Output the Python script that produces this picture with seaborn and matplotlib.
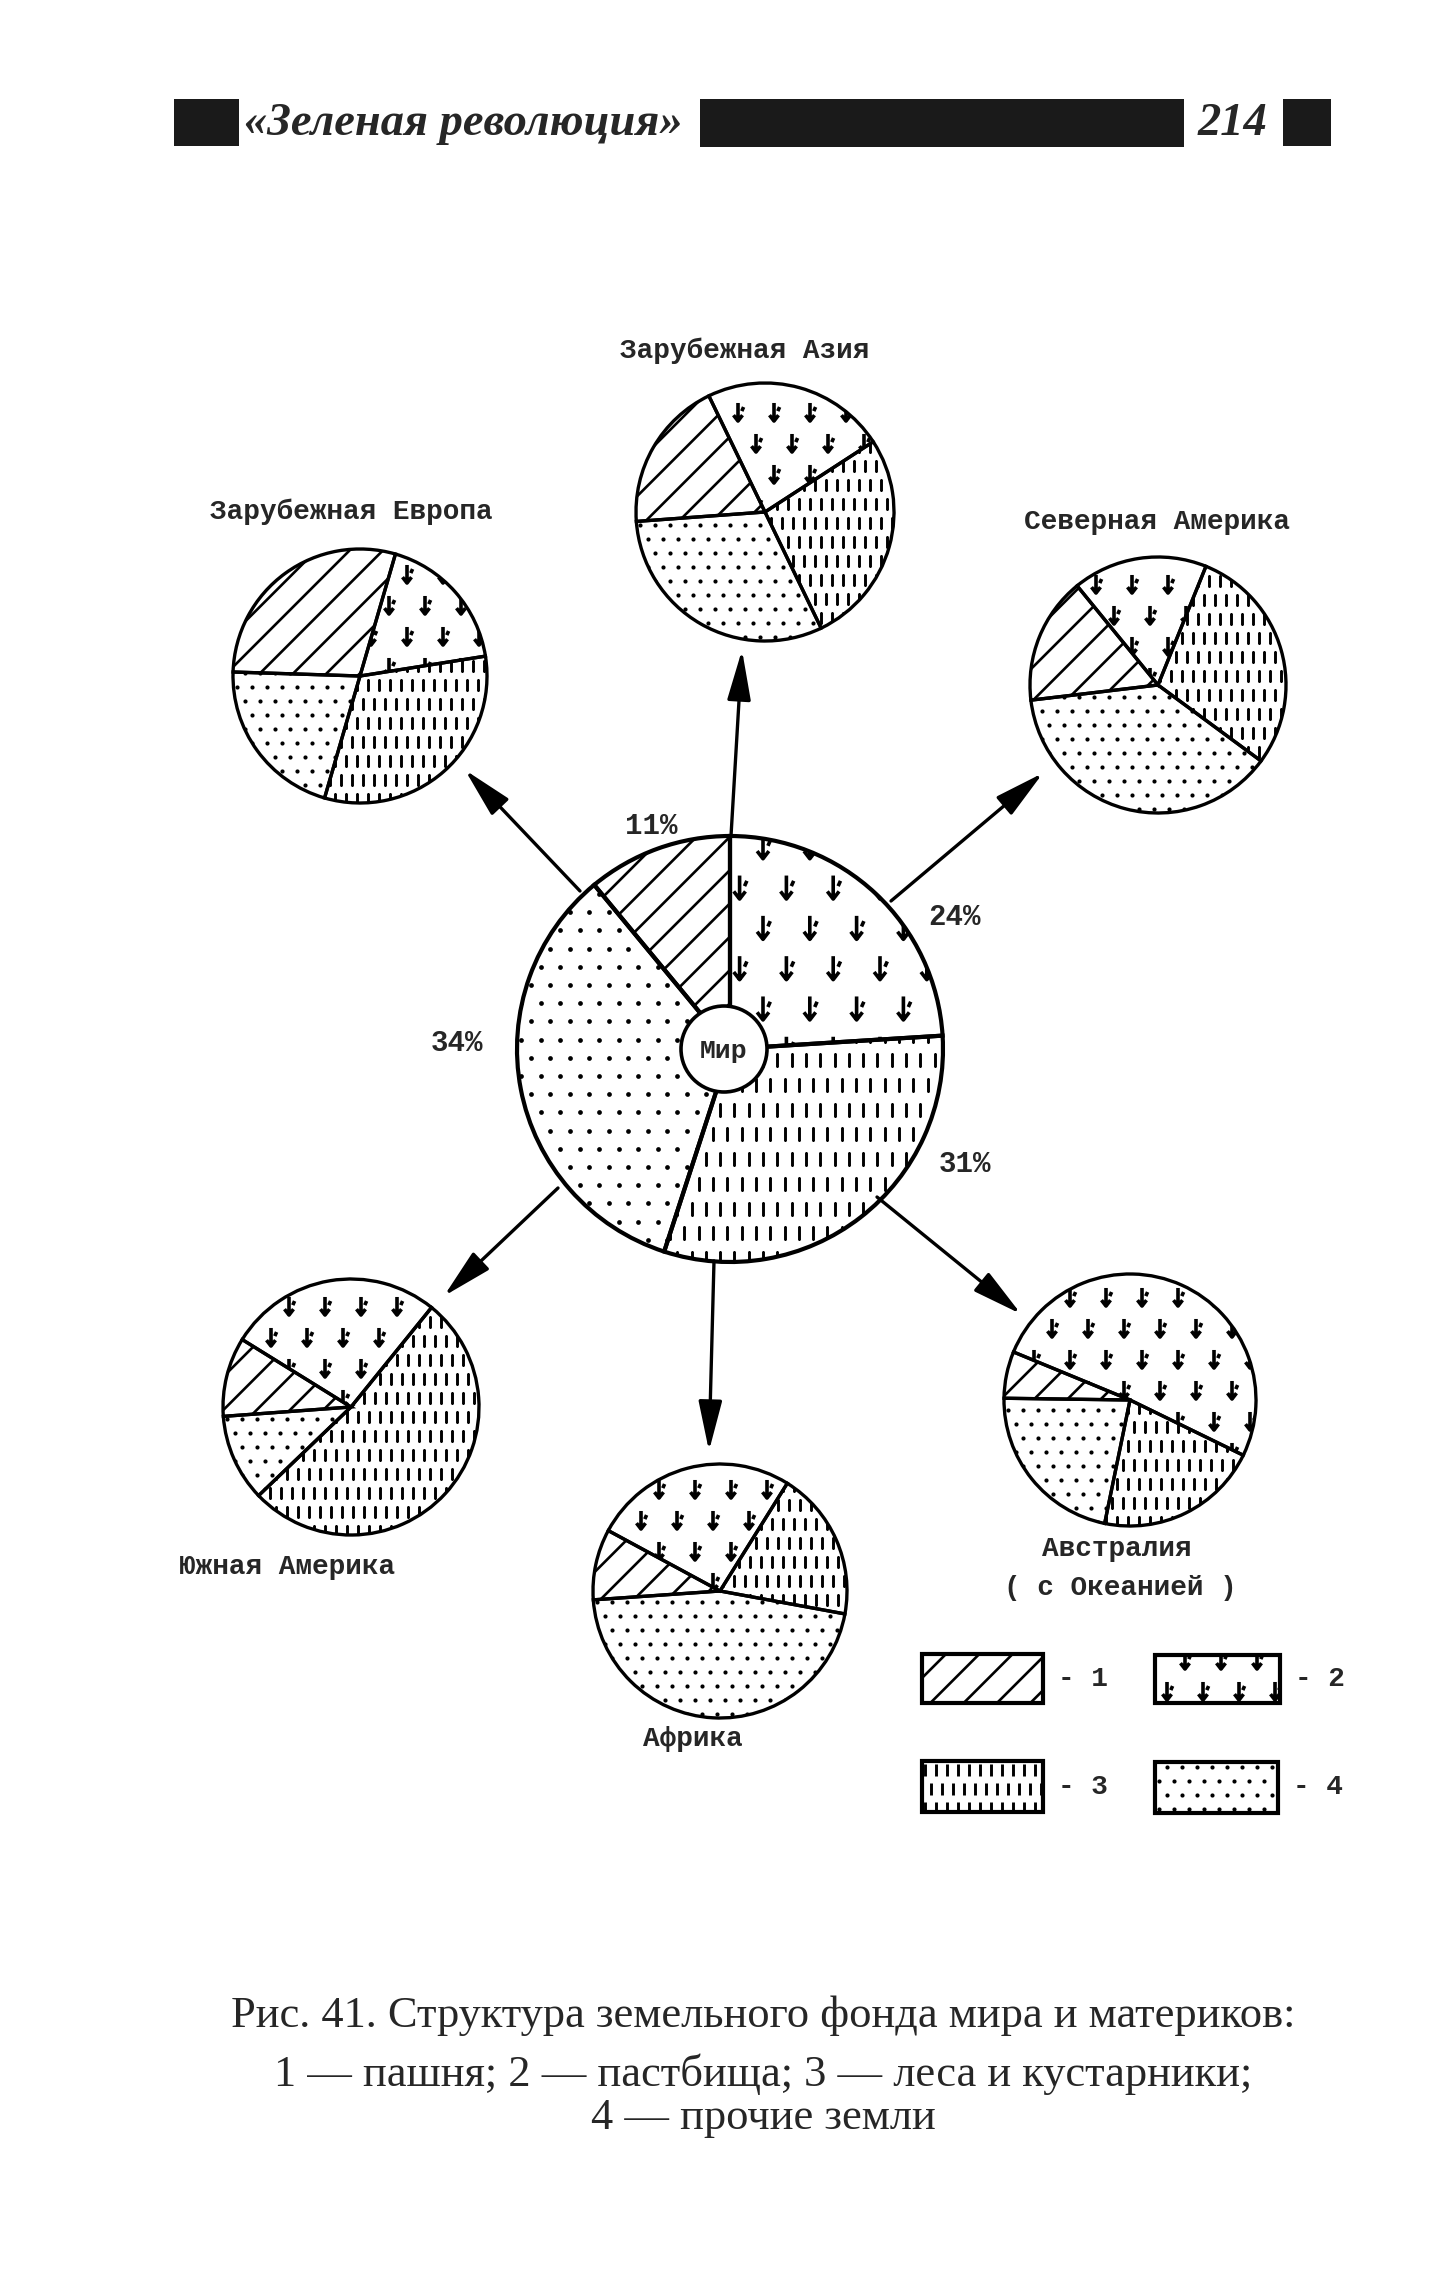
import numpy as np
import matplotlib
matplotlib.use("Agg")
import matplotlib.pyplot as plt
from matplotlib.patches import Rectangle, Circle
from matplotlib.path import Path
import seaborn as sns

sns.set_theme(style="white")
plt.rcParams["font.family"] = ["Liberation Mono", "DejaVu Sans Mono"]
plt.rcParams["hatch.linewidth"] = 1.9
plt.rcParams["hatch.color"] = "black"

W, H = 1445, 2273

# land fund structure, % : 1 пашня, 2 пастбища, 3 леса и кустарники, 4 прочие земли
regions = ["Мир", "Зарубежная Азия", "Зарубежная Европа", "Северная Америка",
           "Южная Америка", "Африка", "Австралия"]
arable = [11, 19, 29, 16, 10, 9, 6]
pasture = [24, 23, 18, 17, 27, 26, 51]
forest = [31, 27, 32, 29, 52, 19, 21]
other = [34, 31, 21, 38, 11, 46, 22]
# angle where the pasture sector starts, sectors run counter-clockwise
start_angle = [3.6, 33, 9, 68, 51, 58, -26]
world_labels = ["11%", "24%", "31%", "34%"]
legend_labels = ["1", "2", "3", "4"]

# layout in image pixels (x, y from top, radius)
pie_pos = [(730, 1049, 213), (765, 512, 129), (360, 676, 127), (1158, 685, 128),
           (351, 1407, 128), (720, 1591, 127), (1130, 1400, 126)]
name_pos = [None, (745, 351), (351, 512), (1157, 522), (287, 1567), (693, 1739), (1117, 1549)]
world_label_pos = [(651, 826), (955, 917), (965, 1164), (457, 1043)]
arrows = [((731, 836), (742, 650)), ((580, 891), (465, 770)), ((891, 901), (1043, 773)),
          ((558, 1188), (444, 1296)), ((714, 1261), (709, 1451)), ((877, 1197), (1021, 1314))]

GRASS = Path([(0, 1), (0, -1), (-0.5, -0.35), (0, -1), (0.5, -0.35), (0.42, 0.1), (0.62, 0.55)],
             [Path.MOVETO, Path.LINETO, Path.MOVETO, Path.LINETO, Path.LINETO,
              Path.MOVETO, Path.LINETO])


def Y(y):
    return H - y


def grid(x0, x1, y0, y1, dx, dy):
    xs, ys = [], []
    for i, yy in enumerate(np.arange(y0, y1, dy)):
        off = dx / 2 if i % 2 else 0
        for xx in np.arange(x0 + off, x1, dx):
            xs.append(xx)
            ys.append(yy)
    return np.array(xs), np.array(ys)


def texture(ax, patch, kind, bounds, k=1.0):
    x0, x1, y0, y1 = bounds
    if kind == 1:
        patch.set_hatch("/")
        return
    if kind == 2:
        xs, ys = grid(x0 + 12, x1, y0 + 12, y1, 36 * k, 31 * k)
        coll = ax.scatter(xs, ys, marker=GRASS, s=(13 * k) ** 2, facecolors="none",
                          edgecolors="black", linewidths=2.6, zorder=2)
    elif kind == 3:
        xs, ys = grid(x0 + 3, x1, y0 + 4, y1, 11 * k, 19 * k)
        coll = ax.scatter(xs, ys, marker="|", s=(8 * k) ** 2, c="black",
                          linewidths=2.1, zorder=2)
    else:
        xs, ys = grid(x0 + 4, x1, y0 + 4, y1, 15 * k, 14 * k)
        coll = ax.scatter(xs, ys, marker="o", s=9 * k, c="black", linewidths=0, zorder=2)
    coll.set_clip_path(patch)


fig = plt.figure(figsize=(14.45, 22.73), dpi=100)
ax = fig.add_axes([0, 0, 1, 1])

for i, (cx, cy, r) in enumerate(pie_pos):
    vals = [pasture[i], arable[i], other[i], forest[i]]
    kinds = [2, 1, 4, 3]
    k = 1.3 if i == 0 else 1.0
    wedges, _ = ax.pie(vals, startangle=start_angle[i], counterclock=True,
                       center=(cx, Y(cy)), radius=r, colors=["white"] * 4,
                       wedgeprops=dict(linewidth=0, edgecolor="black"), frame=False)
    for w, kind in zip(wedges, kinds):
        texture(ax, w, kind, (cx - r, cx + r, Y(cy) - r, Y(cy) + r), k)
    lw = 3.0 if i == 0 else 2.4
    ax.pie(vals, startangle=start_angle[i], counterclock=True, center=(cx, Y(cy)),
           radius=r, colors=["none"] * 4,
           wedgeprops=dict(linewidth=lw, edgecolor="black", zorder=4), frame=False)
    if name_pos[i] is not None:
        nx, ny = name_pos[i]
        ax.text(nx, Y(ny), regions[i], ha="center", va="center", fontsize=20,
                fontweight="bold")

# world centre
wx, wy, wr = pie_pos[0]
ax.add_patch(Circle((wx - 6, Y(wy)), 43, facecolor="white", edgecolor="black",
                    linewidth=2.6, zorder=5))
ax.text(wx - 6, Y(wy) - 2, regions[0], ha="center", va="center", fontsize=19,
        fontweight="bold", zorder=6)
ax.text(1120, Y(1588), "( с Океанией )", ha="center", va="center", fontsize=20,
        fontweight="bold")
for lab, (lx, ly) in zip(world_labels, world_label_pos):
    ax.text(lx, Y(ly), lab, ha="center", va="center", fontsize=21, fontweight="bold")

for (x0, y0), (x1, y1) in arrows:
    ax.annotate("", xy=(x1, Y(y1)), xytext=(x0, Y(y0)),
                arrowprops=dict(arrowstyle="-|>,head_length=1.4,head_width=0.33",
                                lw=2.4, color="black", mutation_scale=22,
                                shrinkA=0, shrinkB=0))

# legend
boxes = [(922, 1654, 121, 49), (1155, 1655, 125, 48), (922, 1761, 121, 51), (1155, 1762, 123, 51)]
for kind, lab, (bx, by, bw, bh) in zip([1, 2, 3, 4], legend_labels, boxes):
    rect = Rectangle((bx, Y(by + bh)), bw, bh, facecolor="white", edgecolor="black",
                     linewidth=0)
    ax.add_patch(rect)
    texture(ax, rect, kind, (bx, bx + bw, Y(by + bh), Y(by)), 1.0)
    ax.add_patch(Rectangle((bx, Y(by + bh)), bw, bh, facecolor="none", edgecolor="black",
                           linewidth=3.0, zorder=4))
    ax.text(bx + bw + 40, Y(by + bh / 2), "- " + lab, ha="center", va="center",
            fontsize=20, fontweight="bold")

# running head
ax.add_patch(Rectangle((174, Y(146)), 65, 47, facecolor="#1a1a1a", edgecolor="none"))
ax.add_patch(Rectangle((700, Y(147)), 484, 48, facecolor="#1a1a1a", edgecolor="none"))
ax.add_patch(Rectangle((1283, Y(146)), 48, 47, facecolor="#1a1a1a", edgecolor="none"))
ax.text(244, Y(124), "«Зеленая революция»", ha="left", va="center", fontsize=33.5,
        fontweight="bold", fontstyle="italic", family=["Liberation Serif", "DejaVu Serif"])
ax.text(1232, Y(124), "214", ha="center", va="center", fontsize=33.5,
        fontweight="bold", fontstyle="italic", family=["Liberation Serif", "DejaVu Serif"])

# caption
cap = ["Рис. 41. Структура земельного фонда мира и материков:",
       "1 — пашня; 2 — пастбища; 3 — леса и кустарники;",
       "4 — прочие земли"]
for line, yy in zip(cap, [2016, 2074, 2118]):
    ax.text(763, Y(yy), line, ha="center", va="center", fontsize=32,
            family=["Liberation Serif", "DejaVu Serif"])

ax.set_xlim(0, W)
ax.set_ylim(0, H)
ax.set_aspect("equal")
ax.axis("off")
fig.savefig("out.png", dpi=100, facecolor="white")
